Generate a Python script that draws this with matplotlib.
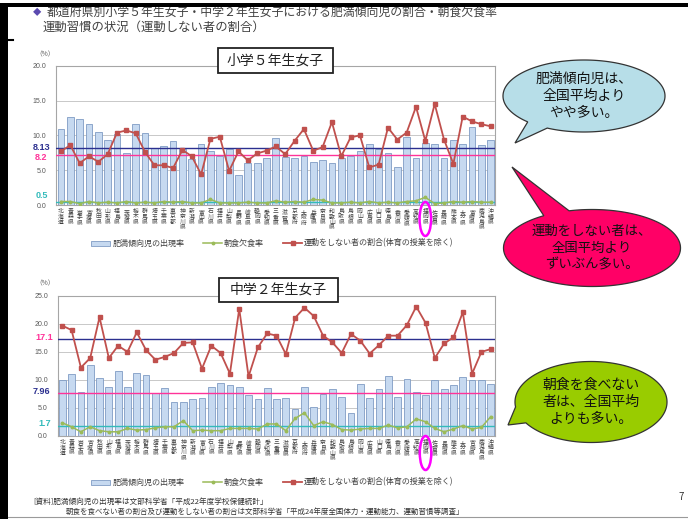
import numpy as np
import matplotlib

matplotlib.use("Agg")
import matplotlib.pyplot as plt
from matplotlib.patches import Rectangle, Ellipse, Polygon
from matplotlib.lines import Line2D

plt.rcParams["font.family"] = ["Noto Sans CJK JP", "DejaVu Sans"]

PREFS = [
    "北海道", "青森県", "岩手県", "宮城県", "秋田県", "山形県", "福島県", "茨城県",
    "栃木県", "群馬県", "埼玉県", "千葉県", "東京都", "神奈川県", "新潟県", "富山県",
    "石川県", "福井県", "山梨県", "長野県", "岐阜県", "静岡県", "愛知県", "三重県",
    "滋賀県", "京都府", "大阪府", "兵庫県", "奈良県", "和歌山県", "鳥取県", "島根県",
    "岡山県", "広島県", "山口県", "徳島県", "香川県", "愛媛県", "高知県", "福岡県",
    "佐賀県", "長崎県", "熊本県", "大分県", "宮崎県", "鹿児島県", "沖縄県",
]
HIGHLIGHT = "福岡県"

# 小学5年生女子
E5_OBESITY = [
    10.9, 12.7, 12.4, 11.7, 10.5, 9.4, 10.2, 7.5, 11.7, 10.4, 8.2, 8.4, 9.2, 8.0,
    6.6, 8.7, 7.8, 7.1, 8.0, 4.3, 6.1, 6.0, 6.7, 9.6, 6.9, 6.8, 7.0, 6.2, 6.4, 6.0,
    6.8, 7.1, 7.8, 8.8, 8.1, 7.4, 5.4, 9.7, 6.8, 8.9, 8.8, 6.7, 9.4, 8.8, 11.2,
    8.6, 9.4,
]
E5_SKIP_BREAKFAST = [
    0.5, 0.5, 0.2, 0.5, 0.3, 0.4, 0.3, 0.5, 0.3, 0.4, 0.3, 0.5, 0.4, 0.5, 0.3,
    0.3, 0.8, 0.3, 0.3, 0.3, 0.4, 0.3, 0.3, 0.6, 0.4, 0.5, 0.4, 0.8, 0.7, 0.3,
    0.3, 0.4, 0.3, 0.5, 0.3, 0.4, 0.3, 0.5, 0.6, 1.1, 0.2, 0.3, 0.5, 0.4, 0.5,
    0.4, 0.4,
]
E5_NO_EXERCISE = [
    7.7, 8.6, 6.0, 7.0, 6.2, 7.3, 10.4, 10.7, 10.3, 7.6, 5.7, 5.7, 5.3, 7.9, 7.0,
    4.4, 9.5, 9.8, 4.9, 7.7, 6.4, 7.4, 7.8, 8.4, 7.3, 9.2, 10.9, 7.8, 8.3, 11.9,
    7.0, 9.7, 10.0, 5.4, 5.8, 11.1, 9.4, 10.4, 14.1, 9.2, 14.5, 9.4, 5.9, 12.7,
    12.0, 11.6, 11.3,
]
E5_REF_LABELS = ["8.13", "8.2", "0.5"]
E5_REF_VALUES = [8.13, 7.25, 0.5]

# 中学2年生女子
J2_OBESITY = [
    9.9, 11.0, 7.9, 12.7, 10.3, 8.7, 11.5, 8.7, 11.2, 10.9, 7.6, 8.5, 6.0, 6.1,
    6.5, 6.7, 8.7, 9.4, 9.1, 8.7, 7.2, 6.5, 8.5, 6.5, 6.7, 4.7, 8.7, 5.2, 7.4,
    8.3, 7.0, 4.0, 9.2, 6.8, 8.4, 10.7, 7.0, 10.1, 7.9, 7.2, 9.9, 8.3, 9.1, 10.5,
    9.9, 10.0, 9.2,
]
J2_SKIP_BREAKFAST = [
    2.3, 1.6, 0.7, 1.6, 0.9, 0.7, 0.7, 1.3, 1.0, 1.1, 1.4, 1.6, 1.6, 2.7, 0.9,
    1.0, 0.9, 0.9, 1.3, 1.3, 1.3, 1.2, 2.1, 2.1, 0.9, 3.1, 4.1, 1.8, 2.5, 2.0,
    1.1, 1.0, 1.2, 1.3, 1.3, 1.9, 1.4, 1.6, 3.0, 2.5, 1.3, 0.7, 1.2, 1.8, 1.2,
    1.5, 3.4,
]
J2_NO_EXERCISE = [
    19.7, 18.9, 12.2, 13.9, 21.2, 13.9, 16.1, 15.0, 18.5, 15.3, 13.6, 14.1, 14.8,
    16.6, 16.7, 12.0, 16.1, 14.8, 11.1, 22.7, 10.6, 15.8, 18.3, 17.9, 14.6, 21.1,
    22.9, 21.4, 17.9, 16.7, 14.8, 18.2, 17.0, 14.7, 16.2, 17.9, 17.9, 19.8, 23.1,
    20.2, 13.9, 16.5, 17.6, 22.1, 11.1, 15.0, 15.5,
]
J2_REF_LABELS = ["17.1", "7.96", "1.7"]
J2_REF_VALUES = [17.25, 7.7, 1.75]

LEGEND_LABELS = ["肥満傾向児の出現率", "朝食欠食率", "運動をしない者の割合(体育の授業を除く)"]

W, H = 688, 519
BAR_C, BAR_EDGE = "#c6d9f0", "#7f9cc4"
GREEN, RED = "#9bbb59", "#c0504d"
NAVY, PINK, TEAL = "#2b2f8f", "#ff3399", "#33bbbb"
REF_COLORS = [NAVY, PINK, TEAL]


def px_axes(fig, left, top, right, bottom):
    return fig.add_axes([left / W, 1 - bottom / H, (right - left) / W, (bottom - top) / H])


def draw_panel(ax, obesity, breakfast, exercise, ymax, ref_values, ref_colors):
    x = np.arange(len(PREFS))
    ax.bar(x, obesity, width=0.72, color=BAR_C, edgecolor=BAR_EDGE, linewidth=0.6, zorder=2)
    for v, c in zip(ref_values, ref_colors):
        ax.axhline(v, color=c, lw=1.0, zorder=3)
    ax.plot(x, breakfast, color=GREEN, lw=1.1, marker="o", ms=1.8, zorder=4)
    ax.plot(x, exercise, color=RED, lw=1.3, marker="s", ms=2.4, zorder=5)
    ax.set_xlim(-0.5, len(PREFS) - 0.5)
    ax.set_ylim(0, ymax)
    ticks = np.arange(0, ymax + 0.1, 5)
    ax.set_yticks(ticks)
    ax.set_yticklabels([f"{t:.1f}" for t in ticks], fontsize=5, color="#595959",
                       family="Liberation Sans")
    ax.tick_params(axis="y", length=0, pad=7)
    ax.grid(axis="y", color="#c8c8c8", lw=0.7, zorder=0)
    ax.set_axisbelow(True)
    for s in ax.spines.values():
        s.set_color("#a6a6a6")
        s.set_linewidth(0.8)
    ax.set_xticks(x)
    ax.set_xticklabels(["\n".join(p) for p in PREFS], fontsize=4.2, linespacing=1.05,
                       color="#404040", va="top")
    ax.tick_params(axis="x", length=0, pad=3)


def bubble(ov, cx, cy, w, h, tip, a0, a1, color, text, fs):
    pts = []
    inserted = False
    for t in np.linspace(0, 360, 361):
        if a0 < t < a1:
            if not inserted:
                pts.append(tip)
                inserted = True
            continue
        r = np.radians(t)
        pts.append((cx + w / 2 * np.cos(r), cy + h / 2 * np.sin(r)))
    ov.add_patch(Polygon(pts, closed=True, fc=color, ec="#333333", lw=0.9, zorder=5))
    ov.text(cx, cy, text, ha="center", va="center", fontsize=fs, linespacing=1.25,
            color="#111111", zorder=6)


def legend_row(ov, y):
    ov.add_patch(Rectangle((91, y - 2.5), 19, 5, fc=BAR_C, ec=BAR_EDGE, lw=0.6))
    ov.text(113, y, LEGEND_LABELS[0], fontsize=5.8, va="center", color="#404040")
    ov.add_line(Line2D([203, 212.5, 222], [y, y, y], color=GREEN, lw=1.1, marker="o", ms=1.8,
                       markevery=[1]))
    ov.text(224, y, LEGEND_LABELS[1], fontsize=5.8, va="center", color="#404040")
    ov.add_line(Line2D([283, 292.5, 302], [y, y, y], color=RED, lw=1.3, marker="s", ms=2.4,
                       markevery=[1]))
    ov.text(304, y, LEGEND_LABELS[2], fontsize=5.8, va="center", color="#404040")


fig = plt.figure(figsize=(W / 100, H / 100), dpi=100)
fig.patch.set_facecolor("white")

ax1 = px_axes(fig, 56.3, 65.7, 495.4, 205.0)
draw_panel(ax1, E5_OBESITY, E5_SKIP_BREAKFAST, E5_NO_EXERCISE, 20, E5_REF_VALUES, REF_COLORS)
ax2 = px_axes(fig, 57.6, 296.0, 495.4, 435.7)
draw_panel(ax2, J2_OBESITY, J2_SKIP_BREAKFAST, J2_NO_EXERCISE, 25, J2_REF_VALUES, REF_COLORS)

ov = fig.add_axes([0, 0, 1, 1], zorder=10)
ov.set_xlim(0, W)
ov.set_ylim(H, 0)
ov.axis("off")
ov.patch.set_alpha(0)

# title (first line runs under the top frame line)
ov.text(33, 12.5, "◆", fontsize=6, color="#5b4ab0", va="center")
ov.text(47, 12.5, "都道府県別小学５年生女子・中学２年生女子における肥満傾向児の割合・朝食欠食率",
        fontsize=8.55, color="#404040", va="center")
ov.text(43, 27.5, "運動習慣の状況（運動しない者の割合）", fontsize=8.9, color="#404040", va="center")

# slide frame
ov.add_patch(Rectangle((0, 0), W, 2.5, fc="white", ec="none", zorder=7))
ov.add_patch(Rectangle((0, 2.5), W, 4.5, fc="black", ec="none", zorder=7))
ov.add_patch(Rectangle((0, 2.5), 8, H, fc="black", ec="none", zorder=7))
ov.add_line(Line2D([0, 13], [40, 40], color="black", lw=1.5))
ov.add_line(Line2D([8, W], [517, 517], color="#9a9a9a", lw=0.8))

# panel titles
for (x0, y0, x1, y1), label in [((218, 48, 333, 73), "小学５年生女子"),
                                ((219, 278, 338, 302), "中学２年生女子")]:
    ov.add_patch(Rectangle((x0, y0), x1 - x0, y1 - y0, fc="white", ec="#222222", lw=1.3, zorder=4))
    ov.text((x0 + x1) / 2, (y0 + y1) / 2, label, ha="center", va="center", fontsize=10,
            color="#222222", zorder=5)

# percent units
ov.text(45, 54.5, "（%）", fontsize=4.8, ha="center", va="center", color="#595959")
ov.text(45, 283, "（%）", fontsize=4.8, ha="center", va="center", color="#595959")

# national average labels
for label, (yy, c, xr) in zip(E5_REF_LABELS, [(147.5, NAVY, 50), (158, PINK, 47), (195.5, TEAL, 48)]):
    ov.text(xr, yy, label, ha="right", va="center", fontsize=6.5, fontweight="bold", color=c,
            family="Liberation Sans")
for label, (yy, c, xr) in zip(J2_REF_LABELS, [(337, PINK, 53), (392, NAVY, 50), (423.5, TEAL, 51)]):
    ov.text(xr, yy, label, ha="right", va="center", fontsize=6.5, fontweight="bold", color=c,
            family="Liberation Sans")

# highlight ellipses around the prefecture label
hi = PREFS.index(HIGHLIGHT)
for ax, yc in [(ax1, 219), (ax2, 453)]:
    xd = ax.transData.transform((hi, 0))[0]
    ov.add_patch(Ellipse((xd, yc), 11.5, 34, fc="none", ec="#ff00ff", lw=1.8, zorder=6))

legend_row(ov, 243)
legend_row(ov, 482)

# callouts
bubble(ov, 584, 96, 162, 72, (515, 143), 117, 134, "#b7dee8",
       "肥満傾向児は、\n全国平均より\nやや多い。", 10)
bubble(ov, 592, 248, 177, 77, (512, 167), 237, 255, "#ff0066",
       "運動をしない者は、\n全国平均より\nずいぶん多い。", 9.6)
bubble(ov, 591, 402, 152, 81, (508, 425), 149, 173, "#99cc00",
       "朝食を食べない\n者は、全国平均\nよりも多い。", 10)

# source notes
ov.text(33, 501.5, "[資料]肥満傾向児の出現率は文部科学省「平成22年度学校保健統計」",
        fontsize=5.5, color="#333333", va="center")
ov.text(66, 512, "朝食を食べない者の割合及び運動をしない者の割合は文部科学省「平成24年度全国体力・運動能力、運動習慣等調査」",
        fontsize=5.4, color="#333333", va="center")
ov.text(681, 497, "7", fontsize=7, color="#333333", ha="center", va="center")

fig.savefig("out.png", dpi=100)
